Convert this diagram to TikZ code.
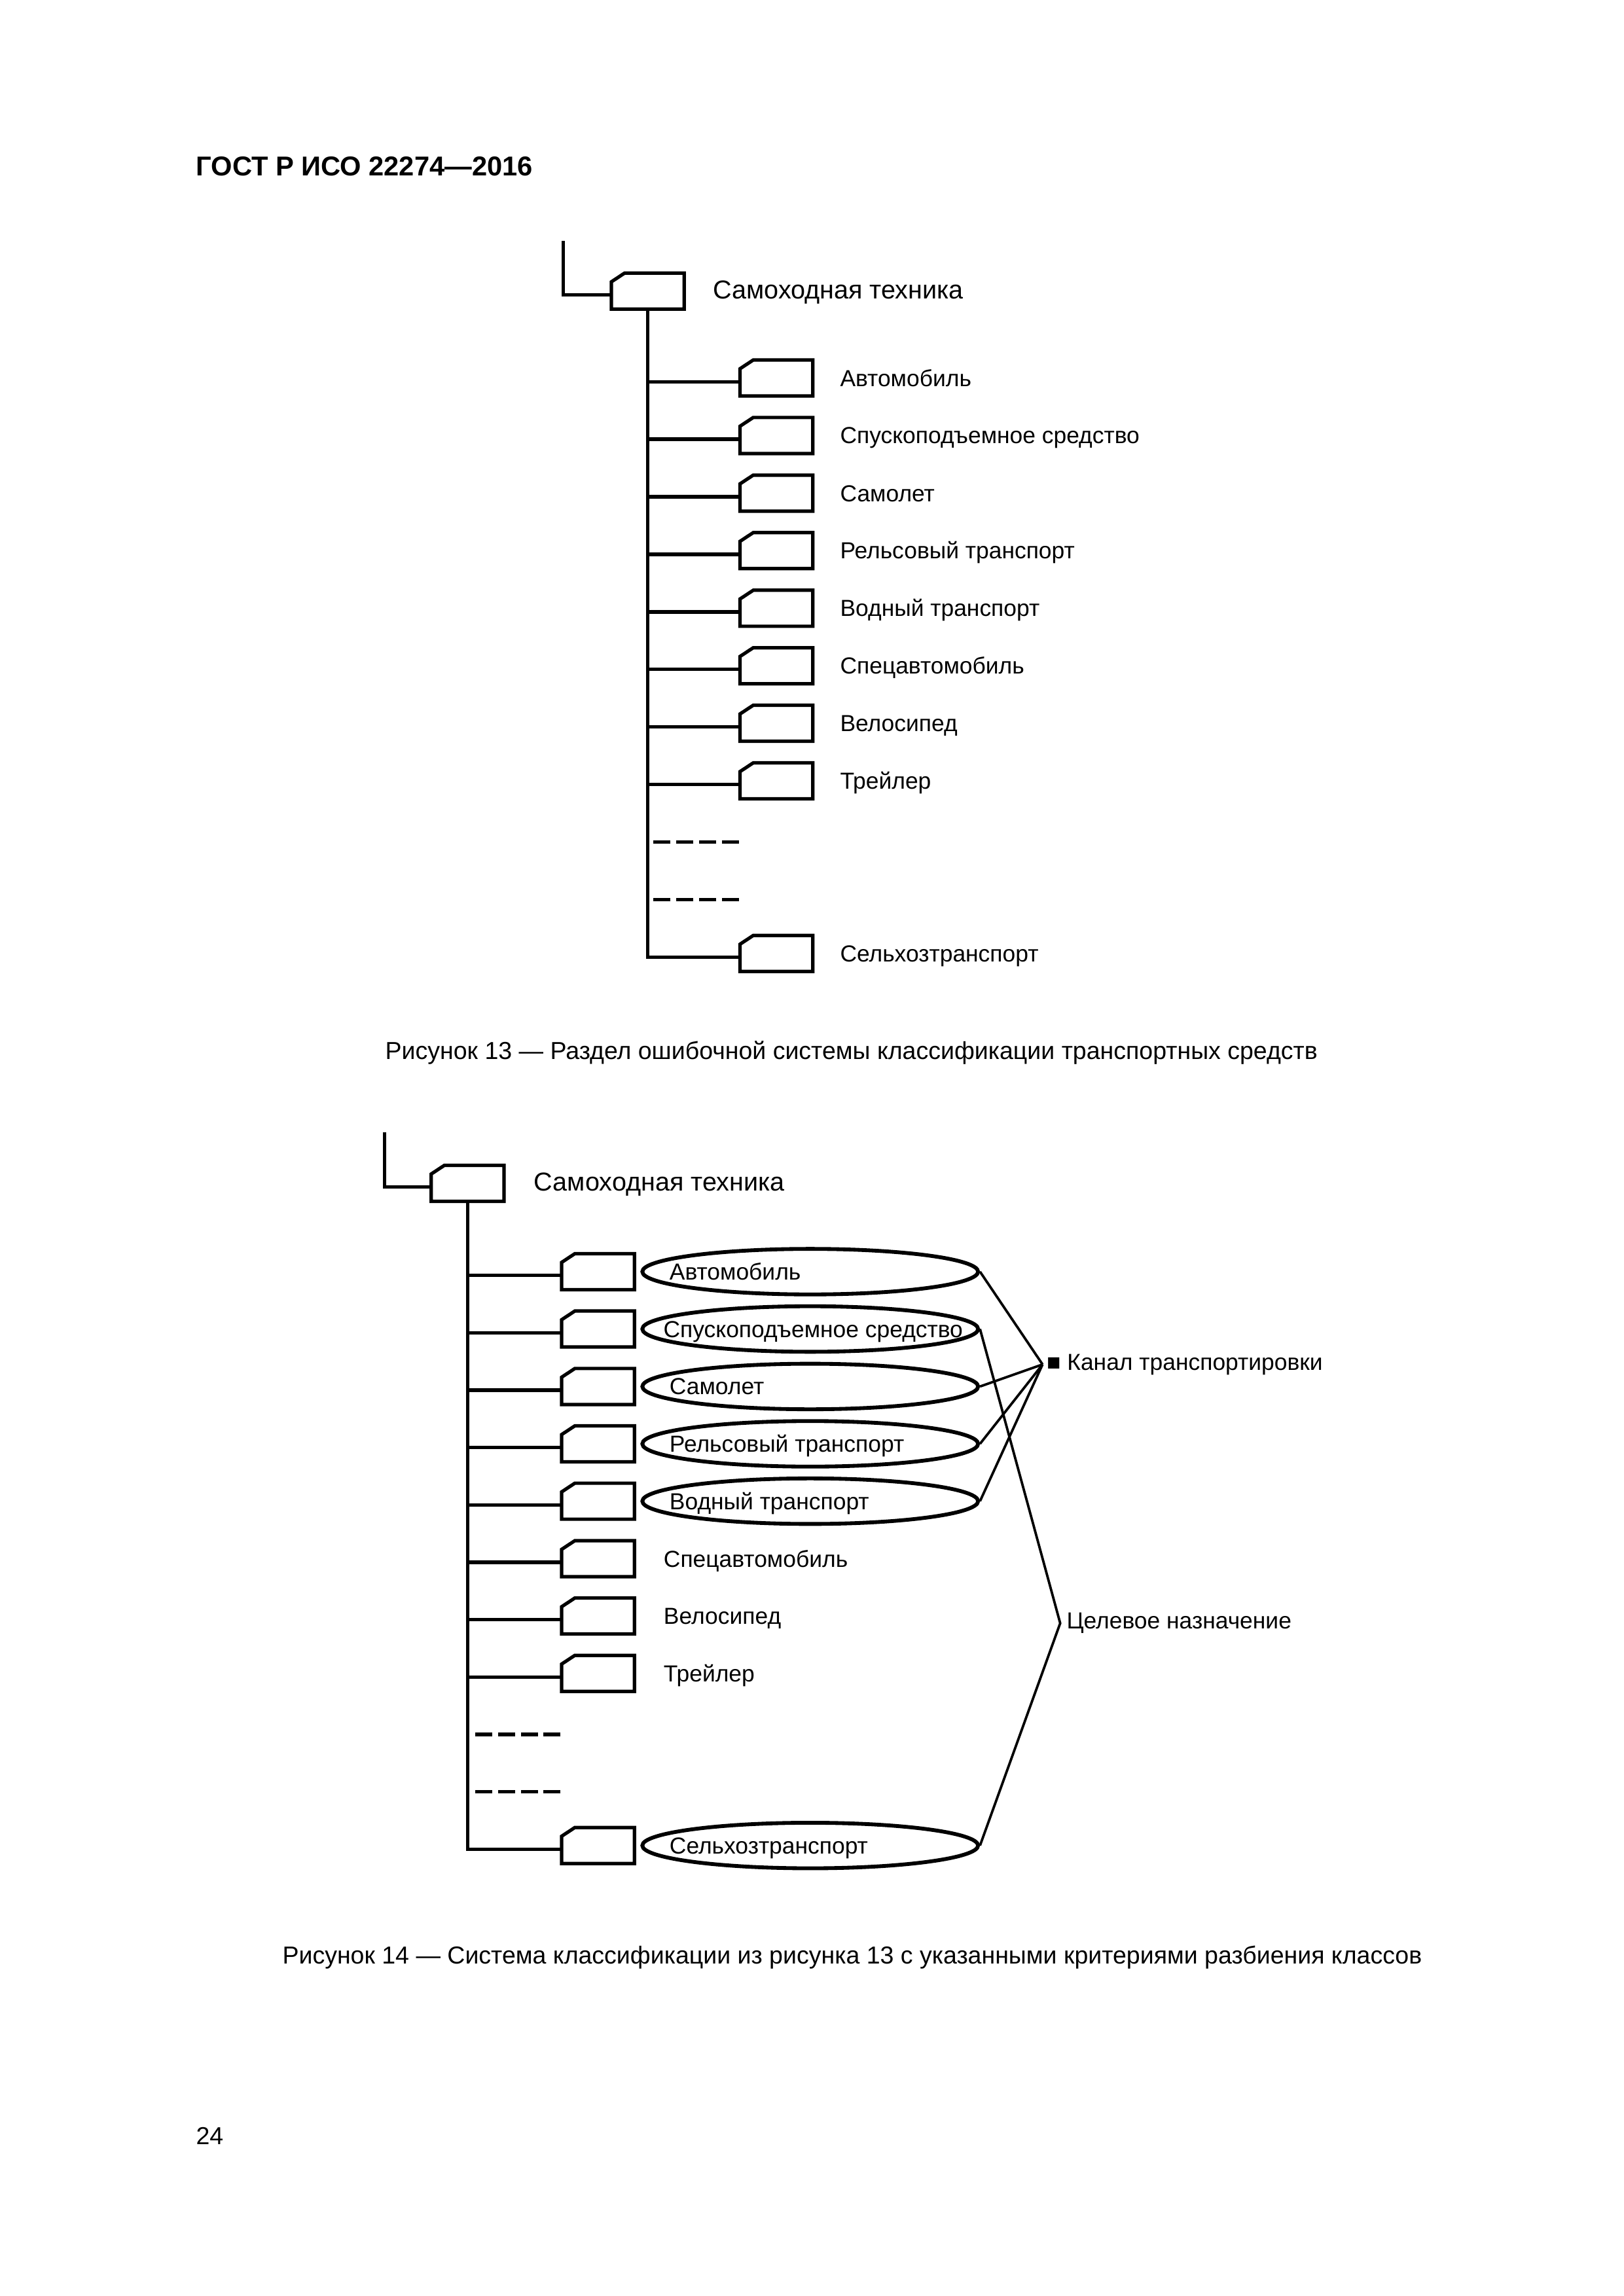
\documentclass[tikz,border=0pt]{standalone}
\usepackage{fontspec}
\setmainfont{Liberation Sans}
\usetikzlibrary{shapes.geometric}

\tikzset{
  tree/.style={line width=1.25pt},
  dashbranch/.style={line width=1.3pt, dash pattern=on 6.25pt off 2.1pt},
  link/.style={line width=0.9pt},
  kbox/.style={minimum width=26.3pt, minimum height=12.8pt, inner sep=0pt},
  oval/.style={ellipse, draw, line width=1.4pt, minimum width=123.1pt, minimum height=16.7pt, inner sep=0pt},
  kname/.style={anchor=base west, inner sep=0pt, font=\fontsize{8.5}{10}\selectfont},
  ktitle/.style={anchor=base west, inner sep=0pt, font=\fontsize{9.5}{11}\selectfont},
  capt/.style={anchor=base, inner sep=0pt, font=\fontsize{9}{11}\selectfont}
}
% chamfered frame round a box node
\newcommand{\kframe}[1]{\draw[tree] (#1.south west) -- ([yshift=-3.2pt]#1.north west) -- ([xshift=4.85pt]#1.north west) -- (#1.north east) -- (#1.south east) -- cycle;}

\begin{document}
\begin{tikzpicture}[x=0.53913pt, y=-0.53913pt]
  \useasboundingbox (0,0) rectangle (1104,1561.6);

  \node[anchor=base west, inner sep=0pt, font=\fontsize{10}{12}\selectfont\bfseries] (head) at (133,119.5) {ГОСТ Р ИСО 22274—2016};

  % Figure 13
  \coordinate (top13) at (383,164);
  \node[kbox] (r13) at (440.5,198) {}; \kframe{r13}
  \draw[tree] (top13) |- ([yshift=-1.35pt]r13.west);
  \node[ktitle] (t13) at (484.5,203.3) {Самоходная техника};

  \node[kbox] (a1) at (528,257.1) {}; \kframe{a1}
  \node[kbox] (a2) at (528,296.2) {}; \kframe{a2}
  \node[kbox] (a3) at (528,335.4) {}; \kframe{a3}
  \node[kbox] (a4) at (528,374.5) {}; \kframe{a4}
  \node[kbox] (a5) at (528,413.7) {}; \kframe{a5}
  \node[kbox] (a6) at (528,452.8) {}; \kframe{a6}
  \node[kbox] (a7) at (528,491.9) {}; \kframe{a7}
  \node[kbox] (a8) at (528,531.1) {}; \kframe{a8}
  \node[kbox] (a11) at (528,648.5) {}; \kframe{a11}
  \coordinate (d9) at (502.5,572.7);
  \coordinate (d10) at (502.5,611.9);

  \draw[tree] (r13.south) |- ([yshift=-1.35pt]a11.west);
  \foreach \b in {a1,a2,a3,a4,a5,a6,a7,a8}
    \draw[tree] ([yshift=-1.35pt]\b.west) -- ([yshift=-1.35pt]\b.west -| r13.south);
  \draw[dashbranch] (d9) -- (d9 -| r13.south);
  \draw[dashbranch] (d10) -- (d10 -| r13.south);

  \node[kname] (n1) at (571,262.7) {Автомобиль};
  \node[kname] (n2) at (571,301.8) {Спускоподъемное средство};
  \node[kname] (n3) at (571,341.0) {Самолет};
  \node[kname] (n4) at (571,380.1) {Рельсовый транспорт};
  \node[kname] (n5) at (571,419.3) {Водный транспорт};
  \node[kname] (n6) at (571,458.4) {Спецавтомобиль};
  \node[kname] (n7) at (571,497.5) {Велосипед};
  \node[kname] (n8) at (571,536.7) {Трейлер};
  \node[kname] (n11) at (571,654.1) {Сельхозтранспорт};

  \node[capt] (c13) at (579,720.5) {Рисунок 13 — Раздел ошибочной системы классификации транспортных средств};

  % Figure 14
  \coordinate (top14) at (261.5,770);
  \node[kbox] (r14) at (318,804.8) {}; \kframe{r14}
  \draw[tree] (top14) |- ([yshift=-1.35pt]r14.west);
  \node[ktitle] (t14) at (362.8,810.1) {Самоходная техника};

  \node[kbox] (b1) at (406.7,864.9) {}; \kframe{b1}
  \node[kbox] (b2) at (406.7,903.9) {}; \kframe{b2}
  \node[kbox] (b3) at (406.7,943.0) {}; \kframe{b3}
  \node[kbox] (b4) at (406.7,982.0) {}; \kframe{b4}
  \node[kbox] (b5) at (406.7,1021.0) {}; \kframe{b5}
  \node[kbox] (b6) at (406.7,1060.1) {}; \kframe{b6}
  \node[kbox] (b7) at (406.7,1099.1) {}; \kframe{b7}
  \node[kbox] (b8) at (406.7,1138.1) {}; \kframe{b8}
  \node[kbox] (b11) at (406.7,1255.2) {}; \kframe{b11}
  \coordinate (e9) at (381.2,1179.6);
  \coordinate (e10) at (381.2,1218.7);

  \draw[tree] (r14.south) |- ([yshift=-1.35pt]b11.west);
  \foreach \b in {b1,b2,b3,b4,b5,b6,b7,b8}
    \draw[tree] ([yshift=-1.35pt]\b.west) -- ([yshift=-1.35pt]\b.west -| r14.south);
  \draw[dashbranch] (e9) -- (e9 -| r14.south);
  \draw[dashbranch] (e10) -- (e10 -| r14.south);

  \node[oval] (o1) at (551,864.9) {};
  \node[oval] (o2) at (551,903.9) {};
  \node[oval] (o3) at (551,943.0) {};
  \node[oval] (o4) at (551,982.0) {};
  \node[oval] (o5) at (551,1021.0) {};
  \node[oval] (o11) at (551,1255.2) {};

  \node[kname] (m1) at (455,870.5) {Автомобиль};
  \node[kname, anchor=base] (m2) at (553,909.5) {Спускоподъемное средство};
  \node[kname] (m3) at (455,948.6) {Самолет};
  \node[kname] (m4) at (455,987.6) {Рельсовый транспорт};
  \node[kname] (m5) at (455,1026.6) {Водный транспорт};
  \node[kname] (m6) at (451,1065.7) {Спецавтомобиль};
  \node[kname] (m7) at (451,1104.7) {Велосипед};
  \node[kname] (m8) at (451,1143.7) {Трейлер};
  \node[kname] (m11) at (455,1260.8) {Сельхозтранспорт};

  \coordinate (kv) at (709,928);
  \coordinate (cv) at (721,1104);
  \draw[link] (o1.east) -- (kv);
  \draw[link] (o3.east) -- (kv);
  \draw[link] (o4.east) -- (kv);
  \draw[link] (o5.east) -- (kv);
  \draw[link] (o2.east) -- (cv) -- (o11.east);
  \node[kname] (kanal) at (711.5,931.8) {■ Канал транспортировки};
  \node[kname] (celev) at (725,1107.8) {Целевое назначение};

  \node[capt] (c14) at (579.5,1335.5) {Рисунок 14 — Система классификации из рисунка 13 с указанными критериями разбиения классов};

  \node[anchor=base west, inner sep=0pt, font=\fontsize{9}{11}\selectfont] (page) at (133,1458.5) {24};
\end{tikzpicture}
\end{document}
